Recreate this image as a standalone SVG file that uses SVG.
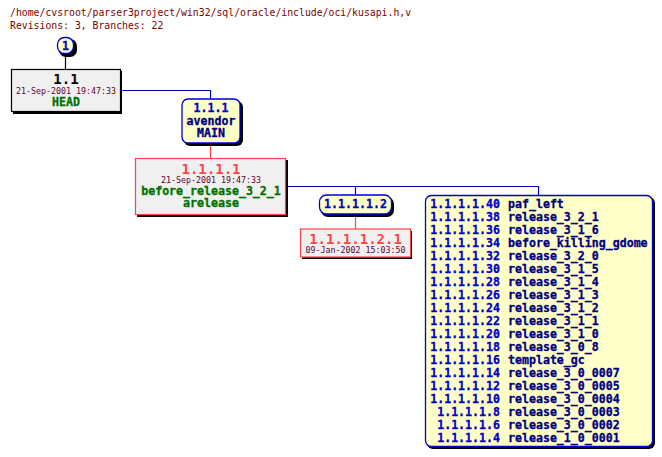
<svg xmlns="http://www.w3.org/2000/svg" width="662" height="457" viewBox="0 0 662 457">
<style>
text{font-family:"DejaVu Sans Mono","Liberation Mono",monospace;}
.t{font-size:9.8px;fill:#800000;}
.b{font-weight:bold;font-size:11.6px;stroke-width:0.3px;}
.big{font-weight:bold;font-size:14px;}
.bigr{font-weight:bold;font-size:14px;fill:#ff4444;}
.d{font-size:8.3px;fill:#600030;}
.rev{fill:#0000cc;stroke:#0000cc;}
.tag{fill:#000080;stroke:#000080;}
.grn{fill:#007000;stroke:#007000;}
.sh{fill:#000;}
.gray{fill:#f0f0f0;}
.yel{fill:#ffffc8;stroke:#0000cc;stroke-width:1.3;}
.bl{stroke:#0000cc;fill:none;stroke-width:1.2;}
.rd{stroke:#ff4444;fill:none;stroke-width:1.2;}
</style>
<rect width="662" height="457" fill="#fff"/>
<text class="t" x="10" y="16">/home/cvsroot/parser3project/win32/sql/oracle/include/oci/kusapi.h,v</text>
<text class="t" x="10" y="29">Revisions: 3, Branches: 22</text>
<g id="connectors">
<line x1="65.5" y1="54" x2="65.5" y2="69" stroke="#000" stroke-width="1.2"/>
<polyline class="bl" points="120,90.5 210.5,90.5 210.5,99"/>
<line class="rd" x1="210.5" y1="143" x2="210.5" y2="158"/>
<polyline class="bl" points="286,186.5 538.5,186.5 538.5,195"/>
<line class="bl" x1="355.5" y1="186.5" x2="355.5" y2="195"/>
<line class="rd" x1="355.5" y1="214" x2="355.5" y2="229"/>
</g>
<g id="n1">
<rect class="sh" x="59" y="39" width="18" height="18" rx="7"/>
<rect class="yel" x="57.5" y="37.5" width="16" height="16" rx="7"/>
<text class="b rev" x="65.5" y="50" text-anchor="middle">1</text>
</g>
<g id="n1.1">
<rect class="sh" x="13" y="71" width="109" height="43"/>
<rect class="gray" x="11.5" y="69.5" width="109" height="42" stroke="#000" stroke-width="1.2"/>
<text class="big" x="66" y="84" text-anchor="middle" fill="#000">1.1</text>
<text class="d" x="66" y="94" text-anchor="middle">21-Sep-2001 19:47:33</text>
<text class="b grn" x="66" y="106.4" text-anchor="middle">HEAD</text>
</g>
<g id="n1.1.1">
<rect class="sh" x="184" y="101" width="59" height="45" rx="6"/>
<rect class="yel" x="182" y="99" width="58" height="44" rx="6"/>
<text class="b rev" x="211" y="112.4" text-anchor="middle">1.1.1</text>
<text class="b tag" x="211" y="125.4" text-anchor="middle">avendor</text>
<text class="b tag" x="211" y="137.4" text-anchor="middle">MAIN</text>
</g>
<g id="n1.1.1.1">
<rect class="sh" x="137" y="160" width="151" height="57"/>
<rect class="gray" x="135.5" y="158.5" width="150" height="56" stroke="#ff4444" stroke-width="1.2"/>
<text class="bigr" x="211" y="174" text-anchor="middle">1.1.1.1</text>
<text class="d" x="211" y="183" text-anchor="middle">21-Sep-2001 19:47:33</text>
<text class="b grn" x="211" y="195.4" text-anchor="middle">before_release_3_2_1</text>
<text class="b grn" x="211" y="207.4" text-anchor="middle">arelease</text>
</g>
<g id="n1.1.1.1.2">
<rect class="sh" x="321" y="197" width="73" height="20" rx="7"/>
<rect class="yel" x="319.5" y="195" width="72" height="19" rx="7"/>
<text class="b rev" x="355.5" y="208.4" text-anchor="middle">1.1.1.1.2</text>
</g>
<g id="n1.1.1.1.2.1">
<rect class="sh" x="302" y="231" width="110" height="28"/>
<rect class="gray" x="300.5" y="229" width="110" height="28" stroke="#ff4444" stroke-width="1.2"/>
<text class="bigr" x="355.5" y="243.5" text-anchor="middle">1.1.1.1.2.1</text>
<text class="d" x="355.5" y="253" text-anchor="middle">09-Jan-2002 15:03:50</text>
</g>
<g id="branches">
<rect class="sh" x="427" y="197" width="228" height="252" rx="6"/>
<rect class="yel" x="425.5" y="195.5" width="227" height="251" rx="6"/>
<g text-anchor="end">
<text class="b rev" x="500" y="208.4">1.1.1.1.40</text>
<text class="b rev" x="500" y="221.4">1.1.1.1.38</text>
<text class="b rev" x="500" y="234.4">1.1.1.1.36</text>
<text class="b rev" x="500" y="247.4">1.1.1.1.34</text>
<text class="b rev" x="500" y="260.4">1.1.1.1.32</text>
<text class="b rev" x="500" y="273.4">1.1.1.1.30</text>
<text class="b rev" x="500" y="286.4">1.1.1.1.28</text>
<text class="b rev" x="500" y="299.4">1.1.1.1.26</text>
<text class="b rev" x="500" y="312.4">1.1.1.1.24</text>
<text class="b rev" x="500" y="325.4">1.1.1.1.22</text>
<text class="b rev" x="500" y="338.4">1.1.1.1.20</text>
<text class="b rev" x="500" y="351.4">1.1.1.1.18</text>
<text class="b rev" x="500" y="364.4">1.1.1.1.16</text>
<text class="b rev" x="500" y="377.4">1.1.1.1.14</text>
<text class="b rev" x="500" y="390.4">1.1.1.1.12</text>
<text class="b rev" x="500" y="403.4">1.1.1.1.10</text>
<text class="b rev" x="500" y="416.4">1.1.1.1.8</text>
<text class="b rev" x="500" y="429.4">1.1.1.1.6</text>
<text class="b rev" x="500" y="442.4">1.1.1.1.4</text>
</g>
<g>
<text class="b tag" x="508" y="208.4">paf_left</text>
<text class="b tag" x="508" y="221.4">release_3_2_1</text>
<text class="b tag" x="508" y="234.4">release_3_1_6</text>
<text class="b tag" x="508" y="247.4">before_killing_gdome</text>
<text class="b tag" x="508" y="260.4">release_3_2_0</text>
<text class="b tag" x="508" y="273.4">release_3_1_5</text>
<text class="b tag" x="508" y="286.4">release_3_1_4</text>
<text class="b tag" x="508" y="299.4">release_3_1_3</text>
<text class="b tag" x="508" y="312.4">release_3_1_2</text>
<text class="b tag" x="508" y="325.4">release_3_1_1</text>
<text class="b tag" x="508" y="338.4">release_3_1_0</text>
<text class="b tag" x="508" y="351.4">release_3_0_8</text>
<text class="b tag" x="508" y="364.4">template_gc</text>
<text class="b tag" x="508" y="377.4">release_3_0_0007</text>
<text class="b tag" x="508" y="390.4">release_3_0_0005</text>
<text class="b tag" x="508" y="403.4">release_3_0_0004</text>
<text class="b tag" x="508" y="416.4">release_3_0_0003</text>
<text class="b tag" x="508" y="429.4">release_3_0_0002</text>
<text class="b tag" x="508" y="442.4">release_1_0_0001</text>
</g>
</g>
</svg>
